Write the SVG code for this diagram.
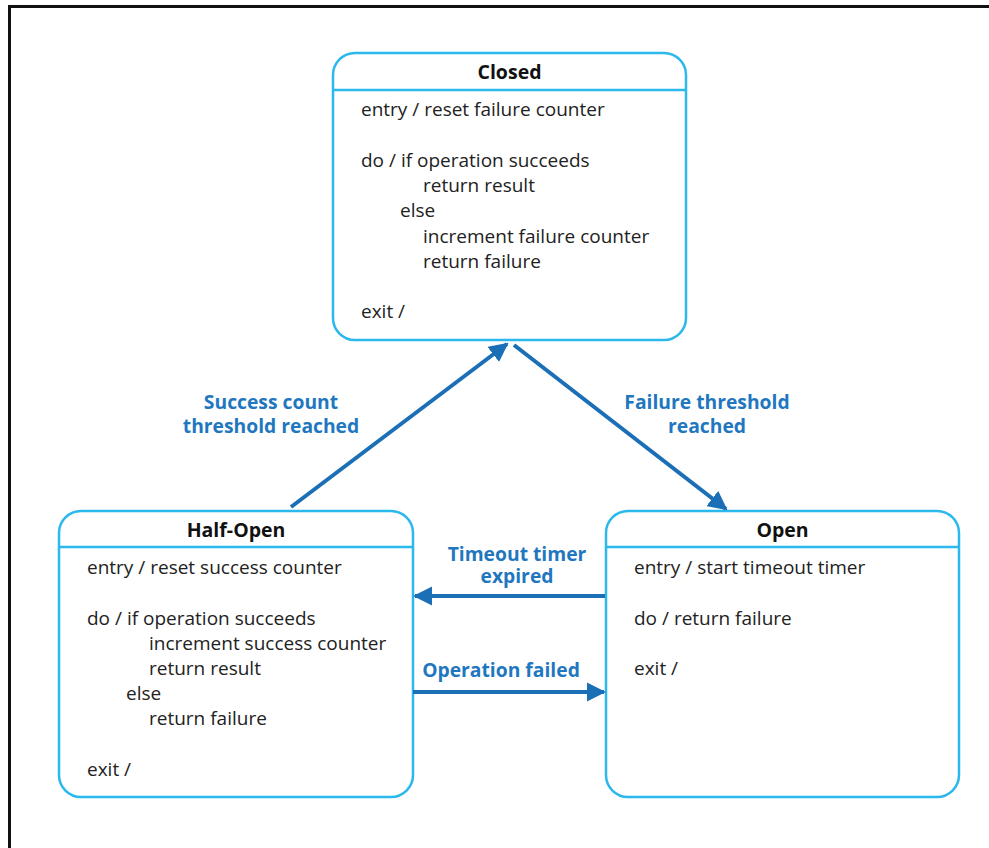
<svg xmlns="http://www.w3.org/2000/svg" width="989" height="848" viewBox="0 0 989 848">
<style>
.box{fill:#fff;stroke:#2bb8ec;stroke-width:2.5}
.div{stroke:#2bb8ec;stroke-width:2.5}
.title{font-family:"Open Sans","Noto Sans",sans-serif;font-size:19.5px;font-weight:bold;fill:#111;text-anchor:middle}
.body{font-family:"Open Sans","Noto Sans",sans-serif;font-size:19px;fill:#222}
.lbl{font-family:"Open Sans","Noto Sans",sans-serif;font-size:19.3px;font-weight:bold;fill:#1f77bf;text-anchor:middle}
.arr{stroke:#1b6fb6;stroke-width:4;fill:none;marker-end:url(#ah)}
</style>
<defs>
<marker id="ah" viewBox="0 0 10 10" refX="9" refY="5" markerWidth="4.8" markerHeight="4.8" markerUnits="strokeWidth" orient="auto">
<path d="M0,0 L10,5 L0,10 z" fill="#1b6fb6"/>
</marker>
</defs>
<rect width="989" height="848" fill="#fff"/>
<path d="M9.5,848 V6.5 H989" fill="none" stroke="#111" stroke-width="3"/>
<g id="closed">
<rect class="box" x="333" y="53" width="353" height="287" rx="22"/>
<line class="div" x1="333" y1="90" x2="686" y2="90"/>
<text class="title" x="509.5" y="79">Closed</text>
<text class="body" x="361" y="116">entry / reset failure counter</text>
<text class="body" x="361" y="167">do / if operation succeeds</text>
<text class="body" x="423" y="192">return result</text>
<text class="body" x="400" y="217">else</text>
<text class="body" x="423" y="243">increment failure counter</text>
<text class="body" x="423" y="268">return failure</text>
<text class="body" x="361" y="318">exit /</text>
</g>
<g id="halfopen">
<rect class="box" x="59" y="511" width="354" height="286" rx="22"/>
<line class="div" x1="59" y1="547" x2="413" y2="547"/>
<text class="title" x="236" y="537">Half-Open</text>
<text class="body" x="87" y="574">entry / reset success counter</text>
<text class="body" x="87" y="625">do / if operation succeeds</text>
<text class="body" x="149" y="650">increment success counter</text>
<text class="body" x="149" y="675">return result</text>
<text class="body" x="126" y="700">else</text>
<text class="body" x="149" y="725">return failure</text>
<text class="body" x="87" y="776">exit /</text>
</g>
<g id="open">
<rect class="box" x="606" y="511" width="353" height="286" rx="22"/>
<line class="div" x1="606" y1="547" x2="959" y2="547"/>
<text class="title" x="782.5" y="537">Open</text>
<text class="body" x="634" y="574">entry / start timeout timer</text>
<text class="body" x="634" y="625">do / return failure</text>
<text class="body" x="634" y="675">exit /</text>
</g>
<g id="connectors">
<line class="arr" x1="291" y1="507" x2="507" y2="344"/>
<line class="arr" x1="514" y1="345" x2="726" y2="509"/>
<line class="arr" x1="605" y1="596" x2="415" y2="596"/>
<line class="arr" x1="413" y1="692" x2="604" y2="692"/>
<text class="lbl" y="409"><tspan x="271">Success count</tspan><tspan x="271" dy="24">threshold reached</tspan></text>
<text class="lbl" y="409"><tspan x="707">Failure threshold</tspan><tspan x="707" dy="24">reached</tspan></text>
<text class="lbl" y="561"><tspan x="517">Timeout timer</tspan><tspan x="517" dy="22">expired</tspan></text>
<text class="lbl" x="501" y="677">Operation failed</text>
</g>
</svg>
